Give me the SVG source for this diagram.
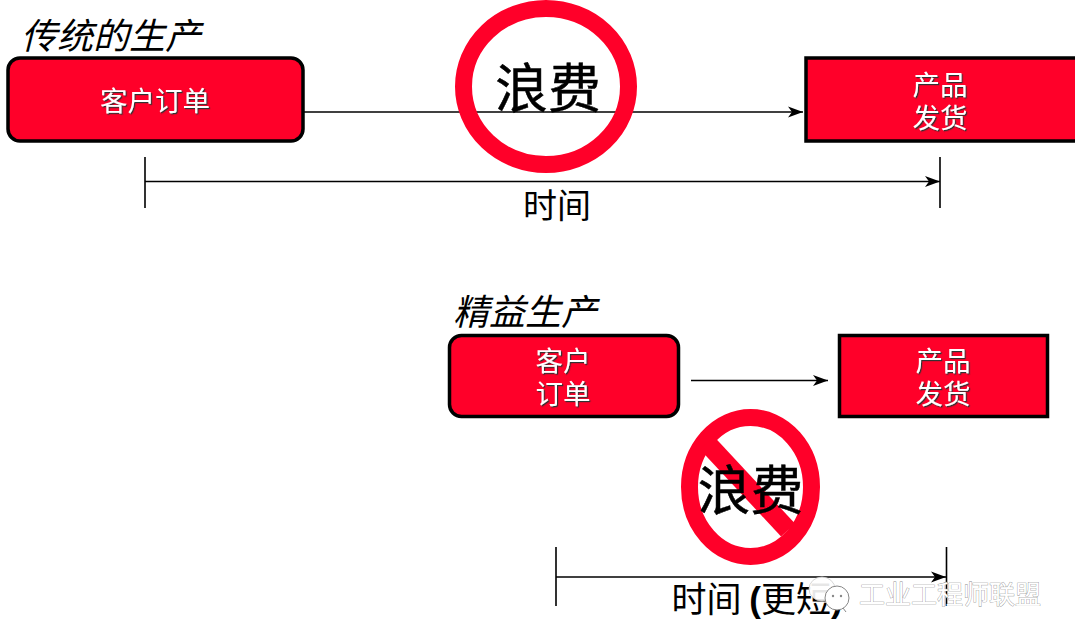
<svg xmlns="http://www.w3.org/2000/svg" width="1075" height="642" viewBox="0 0 1075 642">
<style>
text{font-family:"Noto Sans CJK SC","Noto Sans",sans-serif;text-anchor:middle;fill:#000}
.box{fill:#ff0029;stroke:#000;stroke-width:3.5}
.lbl{fill:#fff;font-size:27.500px;filter:url(#sh)}
.head{font-size:36px;font-style:italic;text-anchor:start;font-weight:400}
.waste{font-size:53px;stroke:#000;stroke-width:.5}
.time{font-size:34px}
.ln{stroke:#000;stroke-width:1.6;fill:none}
.ring{fill:none;stroke:#ff0029;stroke-width:17}
.wm{font-size:26px;fill:#fff;stroke:#8a8a8a;stroke-width:.7;paint-order:stroke}
</style>
<defs>
<marker id="arr" markerUnits="userSpaceOnUse" markerWidth="16" markerHeight="12" refX="15" refY="6" orient="auto">
<path d="M0 0.500L15 6L0 11.500L4 6Z" fill="#000"/>
</marker>
<filter id="sh" x="-20%" y="-20%" width="140%" height="140%">
<feDropShadow dx="1.200" dy="1.200" stdDeviation="0.400" flood-color="#333"/>
</filter>
</defs>
<g id="title-traditional"><text class="head" x="21" y="49">传统的生产</text></g>
<g id="title-lean"><text class="head" x="453" y="325">精益生产</text></g>
<g id="connectors">
<path class="ln" d="M303 112H803" marker-end="url(#arr)"/>
<path class="ln" d="M145 181.500H940" marker-end="url(#arr)"/>
<path class="ln" d="M145 157V208M940 157V208"/>
<path class="ln" d="M691 380.500H828" marker-end="url(#arr)"/>
<path class="ln" d="M556 577H946" marker-end="url(#arr)"/>
<path class="ln" d="M556 547V606M946.500 547V606"/>
</g>
<g id="order-1"><rect class="box" x="8" y="58" width="295" height="83" rx="12"/><text class="lbl" x="155" y="111">客户订单</text></g>
<g id="ship-1"><rect class="box" x="806" y="58" width="272" height="83"/><text class="lbl"><tspan x="940" y="95">产品</tspan><tspan x="940" y="128">发货</tspan></text></g>
<g id="waste-1"><ellipse class="ring" cx="546" cy="86.500" rx="82.500" ry="78"/><text class="waste" x="548" y="108">浪费</text></g>
<g id="time-1"><text class="time" x="557" y="218">时间</text></g>
<g id="order-2"><rect class="box" x="449.500" y="335.500" width="229" height="81" rx="12"/><text class="lbl"><tspan x="563" y="371">客户</tspan><tspan x="563" y="404">订单</tspan></text></g>
<g id="ship-2"><rect class="box" x="839.500" y="335.500" width="208" height="81"/><text class="lbl"><tspan x="943" y="371">产品</tspan><tspan x="943" y="404">发货</tspan></text></g>
<g id="waste-2"><ellipse class="ring" cx="750.500" cy="487" rx="61" ry="69.500"/><path d="M707 443L788 530" stroke="#ff0029" stroke-width="19" fill="none"/><text class="waste" x="750.500" y="510">浪费</text></g>
<g id="time-2"><text class="time" x="757" y="612" style="font-size:35px">时间 <tspan font-family="Liberation Sans" font-weight="700">(</tspan>更短<tspan font-family="Liberation Sans" font-weight="700">)</tspan></text></g>
<g id="watermark">
<ellipse cx="822" cy="589" rx="13" ry="12" fill="#fff" fill-opacity=".9" stroke="#ccc" stroke-width=".8"/>
<ellipse cx="837" cy="598" rx="12" ry="12" fill="#fff" stroke="#888" stroke-width="1"/>
<path d="M843 608L846 612" stroke="#888" stroke-width="1"/>
<circle cx="833" cy="596" r="1.200" fill="#888"/><circle cx="841" cy="596" r="1.200" fill="#888"/>
<text class="wm" x="950" y="604">工业工程师联盟</text>
</g>
</svg>
